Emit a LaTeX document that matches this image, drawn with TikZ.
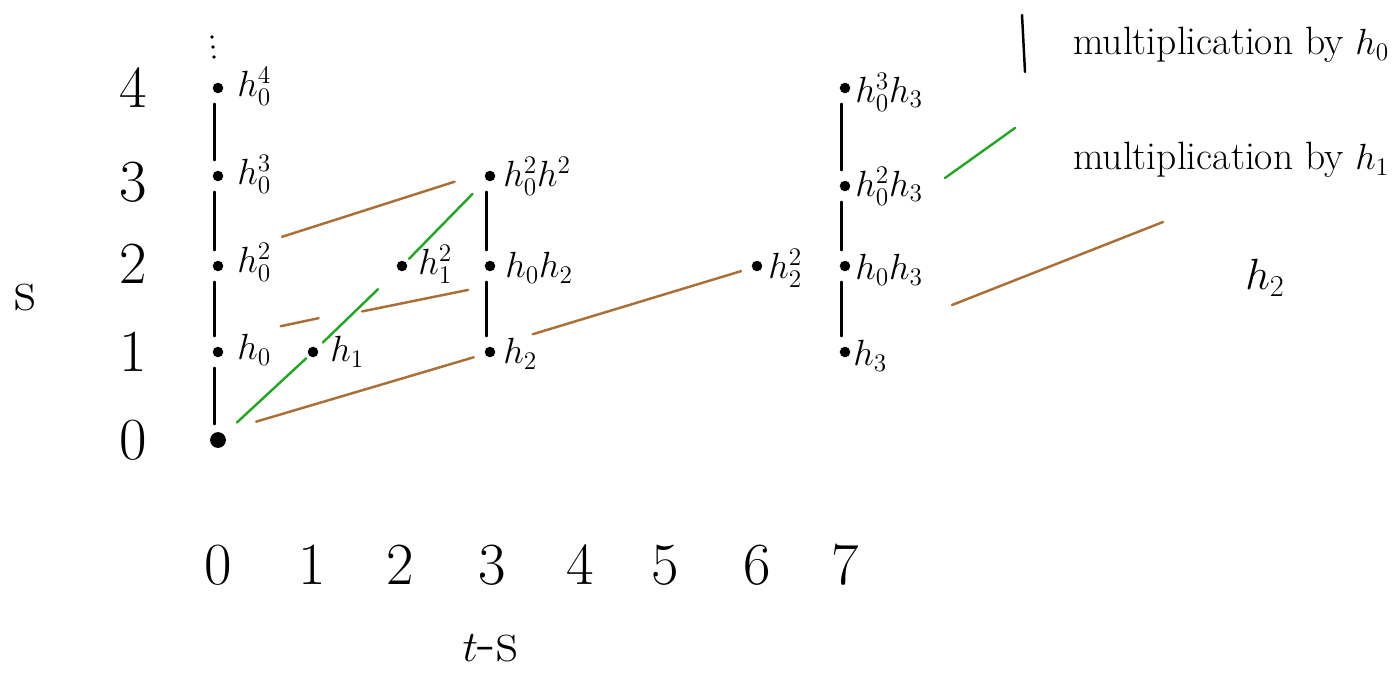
\documentclass[tikz,border=0pt]{standalone}
\usetikzlibrary{calc}
\definecolor{mgreen}{RGB}{40,165,40}
\definecolor{mbrown}{RGB}{170,110,55}
\begin{document}
\begin{tikzpicture}[x=0.02cm,y=-0.02cm,
  dotm/.style={circle,fill=black,inner sep=0pt,minimum size=6pt},
  bigdot/.style={circle,fill=black,inner sep=0pt,minimum size=9pt},
  tinydot/.style={circle,fill=black,inner sep=0pt,minimum size=2pt},
  lab/.style={anchor=west,inner sep=0pt,font=\fontsize{22}{24}\selectfont},
  axnum/.style={font=\fontsize{34}{38}\selectfont},
  legtext/.style={font=\fontsize{22.5}{26}\selectfont,anchor=west,inner sep=0pt},
  hzero/.style={line width=1.4pt,line cap=round},
  hone/.style={mgreen,line width=1.4pt,line cap=round},
  htwo/.style={mbrown,line width=1.4pt,line cap=round}]
\useasboundingbox (0,0) rectangle (1398,673);
% axis labels
\node[axnum] (s4) at (133,88) {4};
\node[axnum] (s3) at (133,182) {3};
\node[axnum] (s2) at (133,264) {2};
\node[axnum] (s1) at (133,352) {1};
\node[axnum] (s0) at (133,440) {0};
\node[axnum] (sl) at (25,298) {s};
\foreach \n/\x in {0/218,1/312,2/400,3/492,4/580,5/665,6/757,7/845}
  \node[axnum] (t\n) at (\x,565) {\n};
\node[axnum] (tl) at (490,648) {$t$-s};
% dots
\node[bigdot] (o) at (218,440) {};
\node[dotm] (a1) at (218,352) {};
\node[dotm] (a2) at (218,266) {};
\node[dotm] (a3) at (218,176) {};
\node[dotm] (a4) at (218,88) {};
\node[tinydot] (v1) at (212,37) {};
\node[tinydot] (v2) at (213,47) {};
\node[tinydot] (v3) at (214,57) {};
\node[dotm] (b1) at (313,352) {};
\node[dotm] (c2) at (402,266) {};
\node[dotm] (d1) at (490,352) {};
\node[dotm] (d2) at (490,266) {};
\node[dotm] (d3) at (490,176) {};
\node[dotm] (g2) at (757,266) {};
\node[dotm] (e1) at (845,352) {};
\node[dotm] (e2) at (845,266) {};
\node[dotm] (e3) at (845,186) {};
\node[dotm] (e4) at (845,88) {};
% labels
\node[lab] (la1) at (237,350) {$h_0$};
\node[lab] (la2) at (237,262) {$h_0^2$};
\node[lab] (la3) at (237,174) {$h_0^3$};
\node[lab] (la4) at (237,86) {$h_0^4$};
\node[lab] (lb1) at (330,352) {$h_1$};
\node[lab] (lc2) at (418,264) {$h_1^2$};
\node[lab] (ld1) at (503,354) {$h_2$};
\node[lab] (ld2) at (505,268) {$h_0h_2$};
\node[lab] (ld3) at (503,176) {$h_0^2h^2$};
\node[lab] (lg2) at (768,268) {$h_2^2$};
\node[lab] (le1) at (853,356) {$h_3$};
\node[lab] (le2) at (855,270) {$h_0h_3$};
\node[lab] (le3) at (855,186) {$h_0^2h_3$};
\node[lab] (le4) at (855,92) {$h_0^3h_3$};
% h0 multiplications
\foreach \p/\q in {o/a1,a1/a2,a2/a3,a3/a4,d1/d2,d2/d3,e1/e2,e2/e3,e3/e4}
  \draw[hzero,shorten <=9pt,shorten >=9pt] ([xshift=-2pt]\p.center) -- ([xshift=-2pt]\q.center);
% h1 multiplications
\draw[hone] ($(o)!0.2!(b1)$) -- ($(o)!0.93!(b1)$);
\draw[hone] ($(b1)!0.11!(c2)$) -- ($(b1)!0.73!(c2)$);
\draw[hone] ($(c2)!0.08!(d3)$) -- ($(c2)!0.8!(d3)$);
% h2 multiplications
\draw[htwo] ($(o)!0.14!(d1)+(0,-6)$) -- ($(o)!0.94!(d1)$);
\draw[htwo] ($(a1)!0.23!(d2)+(0,-6)$) -- ($(a1)!0.37!(d2)+(0,-2)$);
\draw[htwo] ($(a1)!0.53!(d2)+(0,5)$) -- ($(a1)!0.92!(d2)+(0,17)$);
\draw[htwo] ($(a2)!0.235!(d3)+(0,-8)$) -- ($(a2)!0.87!(d3)+(0,-6)$);
\draw[htwo] ($(d1)!0.16!(g2)+(0,-4)$) -- ($(d1)!0.94!(g2)$);
% legend
\coordinate (k0a) at (1022,15);
\coordinate (k0b) at (1025,72);
\draw[hzero] (k0a) -- (k0b);
\node[legtext] (k0t) at (1073,45) {multiplication by $h_0$};
\coordinate (k1a) at (945,178);
\coordinate (k1b) at (1015,128);
\draw[hone] (k1a) -- (k1b);
\node[legtext] (k1t) at (1073,160) {multiplication by $h_1$};
\coordinate (k2a) at (952,305);
\coordinate (k2b) at (1163,222);
\draw[htwo] (k2a) -- (k2b);
\node[lab,anchor=center,font=\fontsize{26}{28}\selectfont] (k2t) at (1265,278) {$h_2$};
\end{tikzpicture}
\end{document}
